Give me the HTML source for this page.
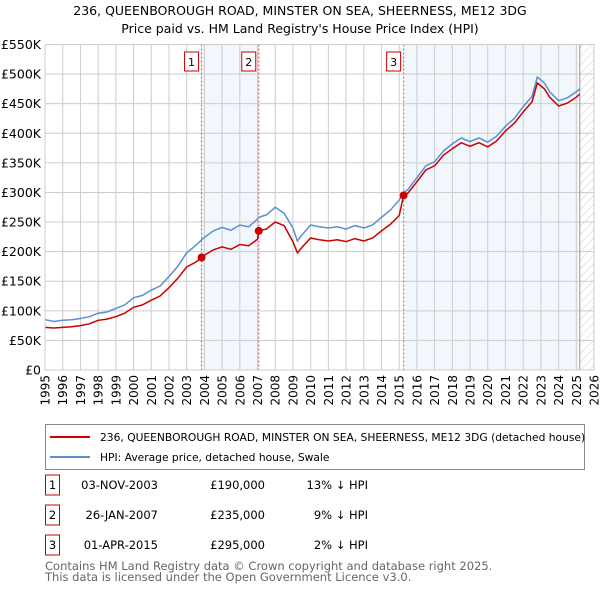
<!DOCTYPE html>
<html><head><meta charset="utf-8"><style>
body{margin:0;background:#fff;font-family:"DejaVu Sans","Liberation Sans",sans-serif;}
svg text{font-family:"DejaVu Sans","Liberation Sans",sans-serif;}
</style></head><body>
<svg id="chart" width="600" height="590" xmlns="http://www.w3.org/2000/svg">
<defs><pattern id="hatch" width="6" height="6" patternUnits="userSpaceOnUse" patternTransform="rotate(45)"><line x1="0" y1="0" x2="0" y2="6" stroke="#ccc" stroke-width="1"/></pattern></defs>
<text x="300" y="15" text-anchor="middle" font-size="12.5">236, QUEENBOROUGH ROAD, MINSTER ON SEA, SHEERNESS, ME12 3DG</text>
<text x="300" y="33" text-anchor="middle" font-size="12.5">Price paid vs. HM Land Registry's House Price Index (HPI)</text>
<g id="plot"></g>
<g>
<rect x="45.5" y="424.5" width="539" height="45" fill="#fff" stroke="#888"/>
<line x1="50" y1="437" x2="90" y2="437" stroke="#cc0000" stroke-width="2"/>
<text x="100" y="441" font-size="10.7">236, QUEENBOROUGH ROAD, MINSTER ON SEA, SHEERNESS, ME12 3DG (detached house)</text>
<line x1="50" y1="457" x2="90" y2="457" stroke="#5b8fd0" stroke-width="2"/>
<text x="100" y="461" font-size="10.7">HPI: Average price, detached house, Swale</text>
</g>
<g id="table" font-size="11.5"></g>
<text x="45" y="570" font-size="11.5" fill="#666">Contains HM Land Registry data © Crown copyright and database right 2025.</text>
<text x="45" y="581" font-size="11.5" fill="#666">This data is licensed under the Open Government Licence v3.0.</text>
</svg>
<script>
const dates=[1995,1995.5,1996,1996.5,1997,1997.5,1998,1998.5,1999,1999.5,2000,2000.5,2001,2001.5,2002,2002.5,2003,2003.5,2003.84,2004,2004.5,2005,2005.5,2006,2006.5,2007,2007.07,2007.5,2008,2008.5,2009,2009.25,2009.5,2010,2010.5,2011,2011.5,2012,2012.5,2013,2013.5,2014,2014.5,2015,2015.25,2015.5,2016,2016.5,2017,2017.5,2018,2018.5,2019,2019.5,2020,2020.5,2021,2021.5,2022,2022.5,2022.8,2023.2,2023.5,2024,2024.5,2025,2025.2];
const hpi=[85,82,84,85,87,90,96,98,104,110,122,126,135,142,158,175,198,210,220,224,235,241,236,245,242,255,258,262,275,265,240,218,228,245,242,240,242,238,244,240,245,258,270,287,300,305,325,345,352,370,382,392,386,392,385,395,412,425,445,462,495,485,470,455,460,470,475];
const price=[72,71,72,73,75,78,84,86,90,96,106,110,118,125,139,155,174,182,190,194,203,208,204,212,210,221,235,238,250,244,217,198,207,223,220,218,220,217,222,218,223,235,246,261,295,299,318,338,345,363,374,384,378,384,377,387,404,417,436,453,485,475,461,446,451,461,466];
const saleDates=[2003.84,2007.07,2015.25];
const saleValues=[190,235,295];
const saleLabels=["1","2","3"];
const saleDateText=["03-NOV-2003","26-JAN-2007","01-APR-2015"];
const salePriceText=["£190,000","£235,000","£295,000"];
const saleHpiText=["13% ↓ HPI","9% ↓ HPI","2% ↓ HPI"];
const yTicks=[0,50,100,150,200,250,300,350,400,450,500,550];
const yTickLabels=["£0","£50K","£100K","£150K","£200K","£250K","£300K","£350K","£400K","£450K","£500K","£550K"];
const xYears=[1995,1996,1997,1998,1999,2000,2001,2002,2003,2004,2005,2006,2007,2008,2009,2010,2011,2012,2013,2014,2015,2016,2017,2018,2019,2020,2021,2022,2023,2024,2025,2026];
const dataEnd=2025.2;

const NS="http://www.w3.org/2000/svg";
const L=45,R=594,T=44.5,B=370;
const X=v=>L+(v-1995)/(2026-1995)*(R-L);
const Y=v=>B-v/550*(B-T);
const plot=document.getElementById('plot');
function mk(tag,attrs,parent,txt){const e=document.createElementNS(NS,tag);for(const k in attrs)e.setAttribute(k,attrs[k]);if(txt!==undefined)e.textContent=txt;(parent||plot).appendChild(e);return e;}

let e;
e=mk('rect',{x:X(saleDates[0]),y:T,width:X(saleDates[1])-X(saleDates[0]),height:B-T,fill:'#f2f6fd'});


e=mk('rect',{x:X(saleDates[2]),y:T,width:X(dataEnd)-X(saleDates[2]),height:B-T,fill:'#f2f6fd'});


e=mk('rect',{x:X(dataEnd),y:T,width:R-X(dataEnd),height:B-T,fill:'url(#hatch)'});


yTicks.forEach((v,i)=>{
  e=mk('line',{x1:L,x2:R,y1:Y(v),y2:Y(v),stroke:'#cccccc'});
  
  
  e=mk('text',{x:L-4,y:Y(v)+4.5,'text-anchor':'end','font-size':12.5},plot,yTickLabels[i]);
  
  
});
xYears.forEach(v=>{
  e=mk('line',{x1:X(v),x2:X(v),y1:T,y2:B,stroke:'#cccccc'});
  
  
  e=mk('text',{x:0,y:0,'text-anchor':'end','font-size':12,transform:`translate(${X(v)+4.5},${B+5}) rotate(-90)`},plot,String(v));
  
  
});
e=mk('line',{x1:X(dataEnd),x2:X(dataEnd),y1:T,y2:B,stroke:'#999'});


saleDates.forEach((d,i)=>{
  e=mk('line',{x1:X(d),x2:X(d),y1:T,y2:B,stroke:'#e05050','stroke-dasharray':'2,2'});
  
  
  e=mk('rect',{x:X(d)-17,y:52,width:14,height:19,fill:'#fff',stroke:'#cc0000'});
  
  
  e=mk('text',{x:X(d)-10,y:66,'text-anchor':'middle','font-size':11},plot,saleLabels[i]);
  
  
});
const pts=a=>a.map((v,i)=>X(dates[i]).toFixed(1)+','+Y(v).toFixed(1)).join(' ');
e=mk('polyline',{points:pts(hpi),fill:'none',stroke:'#5b8fd0','stroke-width':1.5});


e=mk('polyline',{points:pts(price),fill:'none',stroke:'#cc0000','stroke-width':1.5});


saleDates.forEach((d,i)=>{
  e=mk('circle',{cx:X(d),cy:Y(saleValues[i]),r:4,fill:'#cc0000'});
  
  
});
e=mk('rect',{x:L,y:T,width:R-L,height:B-T,fill:'none',stroke:'#cccccc'});



const tbl=document.getElementById('table');
saleDates.forEach((d,i)=>{
  const y=485+i*30;
  e=mk('rect',{x:45.5,y:y-10,width:14,height:20,fill:'#fff',stroke:'#cc0000'},tbl);
  
  
  e=mk('text',{x:52.5,y:y+4,'text-anchor':'middle'},tbl,saleLabels[i]);
  
  
  e=mk('text',{x:158,y:y+4,'text-anchor':'end'},tbl,saleDateText[i]);
  
  
  e=mk('text',{x:265,y:y+4,'text-anchor':'end'},tbl,salePriceText[i]);
  
  
  e=mk('text',{x:368,y:y+4,'text-anchor':'end'},tbl,saleHpiText[i]);
  
  
});
</script>
</body></html>
